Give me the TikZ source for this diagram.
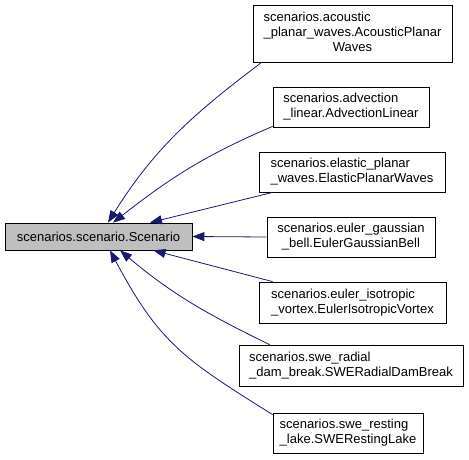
\documentclass[tikz,border=0pt]{standalone}
\usepackage{fontspec}
\setmainfont{Liberation Sans}
\usetikzlibrary{arrows.meta}
\definecolor{edgeblue}{RGB}{25,25,112}
\definecolor{basegray}{RGB}{191,191,191}
% class name split over lines: first lines left, last line centred
\newcommand{\clsname}[2]{\begin{tabular}{@{}l@{}}#1\\\multicolumn{1}{@{}c@{}}{#2}\end{tabular}}
\tikzset{
  classbox/.style={draw=black, line width=0.8pt, minimum height=40pt, inner sep=0pt, font=\fontsize{13}{15}\selectfont},
  basebox/.style={classbox, fill=basegray, minimum height=27pt},
  inherit/.style={draw=edgeblue, line width=0.8pt, -{Triangle[length=12pt,width=9pt]}}
}
\begin{document}
\begin{tikzpicture}[x=1pt, y=1pt]
\useasboundingbox (0,0) rectangle (469,-459);

% Base class
\node[basebox, minimum width=187pt] (scenario) at (98.5,-236.5) {scenarios.scenario.Scenario};

% Derived classes
\node[classbox, minimum width=199pt, minimum height=57pt] (acoustic) at (352.5,-33.5)
  {\clsname{scenarios.acoustic\\\_planar\_waves.AcousticPlanar}{Waves}};
\node[classbox, minimum width=156pt] (advection) at (351,-107)
  {\clsname{scenarios.advection}{\_linear.AdvectionLinear}};
\node[classbox, minimum width=186pt] (elastic) at (352,-172)
  {\clsname{scenarios.elastic\_planar}{\_waves.ElasticPlanarWaves}};
\node[classbox, minimum width=168pt] (gaussian) at (351,-237)
  {\clsname{scenarios.euler\_gaussian}{\_bell.EulerGaussianBell}};
\node[classbox, minimum width=187pt, minimum height=41pt] (isotropic) at (352.5,-302.5)
  {\clsname{scenarios.euler\_isotropic}{\_vortex.EulerIsotropicVortex}};
\node[classbox, minimum width=224pt, minimum height=41pt] (radial) at (351,-365.5)
  {\clsname{scenarios.swe\_radial}{\_dam\_break.SWERadialDamBreak}};
\node[classbox, minimum width=150pt] (resting) at (348,-433)
  {\clsname{scenarios.swe\_resting}{\_lake.SWERestingLake}};

% Inheritance edges
\draw[inherit] ([xshift=9pt]acoustic.south west) to[out=217, in=58] ([xshift=9.5pt]scenario.north);
\draw[inherit] ([yshift=1pt]advection.south west) to[out=203, in=38] ([xshift=14.5pt]scenario.north);
\draw[inherit] ([xshift=14pt]elastic.south west) -- ([xshift=51.5pt]scenario.north);
\draw[inherit] (gaussian.west) -- (scenario.east);
\draw[inherit] ([xshift=14pt]isotropic.north west) -- ([xshift=55pt]scenario.south);
\draw[inherit] ([xshift=31pt]radial.north west) to[out=154, in=-40] ([xshift=21.5pt]scenario.south);
\draw[inherit] ([yshift=-2pt]resting.north west) to[out=148, in=-62, looseness=1.16] ([xshift=11.5pt]scenario.south);
\end{tikzpicture}
\end{document}
